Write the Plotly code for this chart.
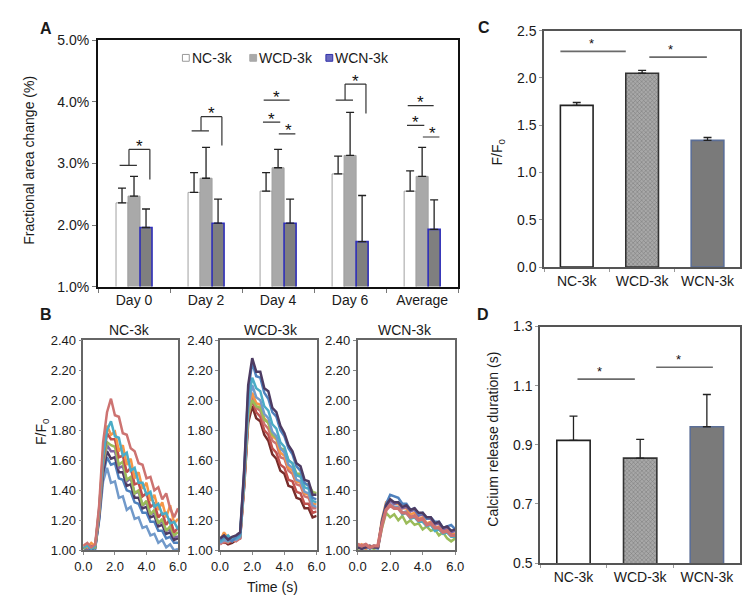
import plotly.graph_objects as go

W, H = 750, 601
FONT = "Arial, Liberation Sans, sans-serif"
TXT = "#1a1a1a"

# ---------------- Panel A: fractional area change ----------------
DAYS = ["Day 0", "Day 2", "Day 4", "Day 6", "Average"]
SERIES = ["NC-3k", "WCD-3k", "WCN-3k"]
NC_AREA = [2.36, 2.53, 2.55, 2.83, 2.55]
NC_AREA_ERR = [0.24, 0.32, 0.30, 0.29, 0.33]
WCD_AREA = [2.47, 2.76, 2.93, 3.13, 2.79]
WCD_AREA_ERR = [0.32, 0.50, 0.30, 0.70, 0.47]
WCN_AREA = [1.96, 2.03, 2.03, 1.73, 1.93]
WCN_AREA_ERR = [0.30, 0.39, 0.39, 0.75, 0.48]

# significance brackets: (category index, top level, left-leg level, right-leg level)
SIG_BRACKETS = [(0, 3.23, 2.97, 2.74), (1, 3.76, 3.53, 3.29), (3, 4.29, 4.03, 3.81)]
# three-line markers: (category index, NC-WCN level, NC-WCD level, WCD-WCN level)
SIG_TRIPLES = [(2, 4.03, 3.67, 3.48), (4, 3.94, 3.62, 3.43)]

# ---------------- Panel B: calcium transients ----------------
TIME_S = [0.0, 0.25, 0.5, 0.75, 1.0, 1.25, 1.5, 1.75, 2.0, 2.25, 2.5, 2.75, 3.0,
          3.25, 3.5, 3.75, 4.0, 4.25, 4.5, 4.75, 5.0, 5.25, 5.5, 5.75, 6.0]

NC_COLORS = ["#4F81BD", "#729ACA", "#4D3B62", "#8064A2", "#9BBB59", "#C0504D",
             "#F79646", "#4BACC6", "#CD7371"]
NC_TRACES = [
    [1.02, 1.00, 1.02, 1.01, 1.21, 1.50, 1.62, 1.57, 1.58, 1.48, 1.47, 1.40, 1.39, 1.32, 1.31, 1.25, 1.25, 1.19, 1.19, 1.13, 1.13, 1.08, 1.09, 1.05, 1.05],
    [1.02, 1.01, 1.00, 1.02, 1.20, 1.46, 1.55, 1.45, 1.46, 1.35, 1.36, 1.27, 1.29, 1.21, 1.22, 1.15, 1.16, 1.10, 1.11, 1.05, 1.07, 1.02, 1.04, 1.00, 1.01],
    [1.01, 1.02, 1.01, 1.02, 1.22, 1.52, 1.66, 1.61, 1.62, 1.52, 1.52, 1.43, 1.44, 1.35, 1.35, 1.28, 1.29, 1.22, 1.23, 1.16, 1.17, 1.11, 1.12, 1.07, 1.08],
    [1.02, 1.01, 1.03, 1.02, 1.24, 1.56, 1.70, 1.66, 1.66, 1.55, 1.56, 1.46, 1.48, 1.38, 1.39, 1.30, 1.32, 1.24, 1.25, 1.18, 1.19, 1.13, 1.14, 1.09, 1.09],
    [1.01, 1.03, 1.02, 1.02, 1.25, 1.58, 1.72, 1.70, 1.69, 1.57, 1.59, 1.47, 1.49, 1.38, 1.40, 1.30, 1.33, 1.24, 1.27, 1.18, 1.21, 1.13, 1.16, 1.10, 1.12],
    [1.03, 1.04, 1.02, 1.03, 1.26, 1.60, 1.78, 1.74, 1.74, 1.62, 1.63, 1.52, 1.55, 1.44, 1.45, 1.36, 1.38, 1.29, 1.31, 1.22, 1.25, 1.17, 1.21, 1.12, 1.15],
    [1.04, 1.02, 1.05, 1.03, 1.27, 1.66, 1.83, 1.77, 1.79, 1.66, 1.70, 1.57, 1.61, 1.48, 1.52, 1.41, 1.45, 1.33, 1.37, 1.27, 1.32, 1.22, 1.30, 1.18, 1.21],
    [1.02, 1.03, 1.01, 1.03, 1.28, 1.62, 1.80, 1.86, 1.76, 1.75, 1.63, 1.65, 1.53, 1.55, 1.45, 1.45, 1.37, 1.39, 1.29, 1.31, 1.24, 1.25, 1.18, 1.19, 1.14],
    [1.03, 1.05, 1.02, 1.04, 1.30, 1.72, 1.92, 2.01, 1.90, 1.89, 1.78, 1.77, 1.68, 1.66, 1.58, 1.57, 1.48, 1.49, 1.40, 1.42, 1.34, 1.38, 1.28, 1.22, 1.28],
]

WCD_COLORS = ["#772C2A", "#C0504D", "#CD7371", "#F79646", "#9BBB59", "#729ACA",
              "#4BACC6", "#4F81BD", "#4D3B62"]
WCD_TRACES = [
    [1.05, 1.06, 1.04, 1.05, 1.07, 1.08, 1.42, 1.85, 1.96, 1.88, 1.86, 1.77, 1.73, 1.64, 1.61, 1.53, 1.51, 1.43, 1.42, 1.35, 1.34, 1.28, 1.28, 1.22, 1.23],
    [1.06, 1.05, 1.07, 1.06, 1.08, 1.09, 1.44, 1.88, 2.00, 1.92, 1.89, 1.80, 1.77, 1.68, 1.65, 1.57, 1.55, 1.47, 1.46, 1.39, 1.38, 1.31, 1.31, 1.25, 1.26],
    [1.04, 1.06, 1.05, 1.07, 1.06, 1.08, 1.45, 1.90, 2.02, 1.95, 1.93, 1.84, 1.81, 1.73, 1.71, 1.62, 1.61, 1.53, 1.51, 1.44, 1.43, 1.36, 1.35, 1.28, 1.28],
    [1.06, 1.12, 1.08, 1.07, 1.09, 1.10, 1.47, 1.93, 2.05, 1.98, 1.97, 1.88, 1.85, 1.76, 1.74, 1.65, 1.63, 1.55, 1.53, 1.46, 1.45, 1.38, 1.37, 1.31, 1.31],
    [1.07, 1.08, 1.06, 1.08, 1.09, 1.10, 1.46, 1.90, 2.00, 1.96, 1.95, 1.87, 1.85, 1.77, 1.75, 1.68, 1.67, 1.60, 1.58, 1.51, 1.51, 1.44, 1.44, 1.39, 1.38],
    [1.05, 1.07, 1.06, 1.08, 1.07, 1.09, 1.48, 1.95, 2.10, 2.02, 2.00, 1.91, 1.88, 1.79, 1.76, 1.68, 1.65, 1.57, 1.55, 1.47, 1.46, 1.39, 1.38, 1.30, 1.29],
    [1.06, 1.08, 1.10, 1.07, 1.08, 1.10, 1.50, 2.00, 2.15, 2.08, 2.06, 1.96, 1.93, 1.84, 1.81, 1.72, 1.69, 1.60, 1.58, 1.50, 1.49, 1.42, 1.41, 1.33, 1.32],
    [1.07, 1.09, 1.08, 1.06, 1.09, 1.11, 1.52, 2.06, 2.25, 2.16, 2.15, 2.05, 2.01, 1.92, 1.89, 1.80, 1.76, 1.68, 1.64, 1.56, 1.53, 1.45, 1.43, 1.35, 1.34],
    [1.08, 1.10, 1.07, 1.09, 1.10, 1.12, 1.54, 2.10, 2.28, 2.19, 2.19, 2.08, 2.06, 1.95, 1.92, 1.83, 1.78, 1.70, 1.66, 1.58, 1.56, 1.47, 1.46, 1.37, 1.37],
]

WCN_COLORS = ["#9BBB59", "#729ACA", "#4BACC6", "#F79646", "#8064A2", "#4F81BD",
              "#4D3B62", "#CD7371"]
WCN_TRACES = [
    [1.01, 1.02, 1.03, 1.02, 1.01, 1.02, 1.15, 1.25, 1.22, 1.24, 1.20, 1.23, 1.18, 1.20, 1.17, 1.18, 1.14, 1.16, 1.13, 1.14, 1.10, 1.12, 1.08, 1.06, 1.08],
    [1.03, 1.01, 1.02, 1.03, 1.02, 1.01, 1.18, 1.28, 1.31, 1.29, 1.29, 1.25, 1.26, 1.22, 1.23, 1.20, 1.20, 1.17, 1.18, 1.14, 1.15, 1.12, 1.13, 1.10, 1.10],
    [1.02, 1.03, 1.01, 1.02, 1.03, 1.02, 1.17, 1.27, 1.30, 1.28, 1.28, 1.24, 1.25, 1.21, 1.22, 1.19, 1.19, 1.16, 1.17, 1.13, 1.14, 1.11, 1.12, 1.09, 1.09],
    [1.02, 1.04, 1.01, 1.03, 1.02, 1.03, 1.21, 1.32, 1.34, 1.31, 1.31, 1.28, 1.28, 1.24, 1.25, 1.21, 1.22, 1.18, 1.19, 1.15, 1.16, 1.13, 1.14, 1.11, 1.11],
    [1.02, 1.03, 1.02, 1.02, 1.03, 1.02, 1.18, 1.30, 1.33, 1.31, 1.32, 1.28, 1.29, 1.26, 1.27, 1.23, 1.24, 1.21, 1.21, 1.17, 1.18, 1.14, 1.15, 1.12, 1.13],
    [1.03, 1.02, 1.04, 1.01, 1.03, 1.02, 1.20, 1.31, 1.37, 1.36, 1.35, 1.31, 1.31, 1.27, 1.28, 1.24, 1.25, 1.21, 1.22, 1.19, 1.19, 1.15, 1.16, 1.17, 1.14],
    [1.02, 1.01, 1.02, 1.03, 1.02, 1.02, 1.19, 1.30, 1.34, 1.32, 1.32, 1.29, 1.30, 1.27, 1.28, 1.25, 1.25, 1.22, 1.22, 1.18, 1.19, 1.15, 1.16, 1.13, 1.14],
    [1.04, 1.03, 1.04, 1.02, 1.03, 1.03, 1.17, 1.27, 1.30, 1.28, 1.28, 1.25, 1.25, 1.22, 1.23, 1.20, 1.21, 1.17, 1.18, 1.15, 1.15, 1.12, 1.13, 1.10, 1.10],
]

# ---------------- Panels C and D ----------------
GROUPS = ["NC-3k", "WCD-3k", "WCN-3k"]
FF0_PEAK = [1.71, 2.05, 1.34]
FF0_PEAK_ERR = [0.03, 0.03, 0.03]
RELEASE_DURATION = [0.915, 0.855, 0.961]
RELEASE_DURATION_ERR = [0.082, 0.063, 0.109]
# significance lines: (from category, to category, level, star position)
SIG_C = [(-0.25, 0.75, 2.28, 0.23), (1.11, 1.99, 2.22, 1.44)]
SIG_D = [(0.06, 0.92, 1.122, 0.39), (1.24, 2.09, 1.162, 1.58)]

BAR_FILLS = ["#ffffff", "#a8a8a8", "#7a7a7a"]
BAR_LINES = ["#222222", "#333333", "#5b6e96"]
A_FILLS = ["#ffffff", "#a9a9a9", "#7f7f7f"]
A_LINES = ["#a0a0a0", "#a0a0a0", "#2e2eb8"]
A_LINE_W = [1.0, 1.0, 1.6]
LEGEND_SWATCH = ["#ffffff", "#a9a9a9", "#6a6ac0"]
LEGEND_SWATCH_LINE = ["#999999", "#a9a9a9", "#3030a8"]


def px(x):
    return x / W


def py(y):
    return 1 - y / H


fig = go.Figure()

# ---- Panel A bars
for name, vals, errs, fill, line, lw in zip(
        SERIES, [NC_AREA, WCD_AREA, WCN_AREA], [NC_AREA_ERR, WCD_AREA_ERR, WCN_AREA_ERR],
        A_FILLS, A_LINES, A_LINE_W):
    fig.add_trace(go.Bar(
        x=DAYS, y=vals, name=name, showlegend=False,
        marker=dict(color=fill, line=dict(color=line, width=lw)),
        error_y=dict(type="data", array=errs, arrayminus=[0] * len(errs), symmetric=False,
                     color="#222222", thickness=1.3, width=4),
        xaxis="x", yaxis="y",
    ))

# ---- Panel B traces
for axis_n, colors, traces in [(2, NC_COLORS, NC_TRACES), (3, WCD_COLORS, WCD_TRACES),
                               (4, WCN_COLORS, WCN_TRACES)]:
    for i, (c, vals) in enumerate(zip(colors, traces)):
        w = 3.4 if (axis_n == 4 and i == len(traces) - 1) else 2.5
        fig.add_trace(go.Scatter(
            x=TIME_S, y=vals, mode="lines", line=dict(color=c, width=w),
            xaxis=f"x{axis_n}", yaxis=f"y{axis_n}", showlegend=False,
        ))

# ---- Panels C and D
for axis_n, vals, errs in [(5, FF0_PEAK, FF0_PEAK_ERR), (6, RELEASE_DURATION, RELEASE_DURATION_ERR)]:
    fig.add_trace(go.Bar(
        x=GROUPS, y=vals, showlegend=False,
        marker=dict(color=BAR_FILLS, line=dict(color=BAR_LINES, width=1.6),
                    pattern=dict(shape=["", "x", ""], fillmode="overlay", fgcolor="#666666",
                                 size=3, solidity=0.3)),
        error_y=dict(type="data", array=errs, arrayminus=[0] * len(errs), symmetric=False,
                     color="#222222", thickness=1.3, width=4),
        xaxis=f"x{axis_n}", yaxis=f"y{axis_n}",
    ))

shapes = []
annotations = []


def star(xref, yref, x, y, size, shift):
    annotations.append(dict(text="*", x=x, y=y, xref=xref, yref=yref, showarrow=False,
                            yanchor="middle", yshift=shift,
                            font=dict(family=FONT, size=size, color="#111")))


def hline(xref, yref, x0, x1, y, color, width):
    shapes.append(dict(type="line", xref=xref, yref=yref, x0=x0, x1=x1, y0=y, y1=y,
                       line=dict(color=color, width=width)))


def vline(xref, yref, x, y0, y1, color, width):
    shapes.append(dict(type="line", xref=xref, yref=yref, x0=x, x1=x, y0=y0, y1=y1,
                       line=dict(color=color, width=width)))


SIGC = "#333333"
for i, top, lb, rb in SIG_BRACKETS:
    hline("x", "y", i - 0.07, i + 0.22, top, SIGC, 1.2)
    vline("x", "y", i - 0.07, lb, top, SIGC, 1.2)
    vline("x", "y", i + 0.22, rb, top, SIGC, 1.2)
    hline("x", "y", i - 0.20, i + 0.04, lb, SIGC, 1.2)
    star("x", "y", i + 0.08, top, 17, 3)
for i, y1, y2, y3 in SIG_TRIPLES:
    hline("x", "y", i - 0.20, i + 0.16, y1, SIGC, 1.2)
    star("x", "y", i - 0.02, y1, 17, 3)
    hline("x", "y", i - 0.21, i + 0.03, y2, SIGC, 1.2)
    star("x", "y", i - 0.09, y2, 17, 3)
    hline("x", "y", i + 0.01, i + 0.24, y3, SIGC, 1.2)
    star("x", "y", i + 0.14, y3, 17, 3)

for axn, sigs in [(5, SIG_C), (6, SIG_D)]:
    for x0, x1, lvl, sx in sigs:
        hline(f"x{axn}", f"y{axn}", x0, x1, lvl, "#6a6a6a", 1.6)
        star(f"x{axn}", f"y{axn}", sx, lvl, 13, 8)


def label(text, x, y, size=14, angle=0, bold=False, anchor="center"):
    annotations.append(dict(text=text, x=px(x), y=py(y),
                            xref="paper", yref="paper", showarrow=False, textangle=angle,
                            xanchor=anchor, yanchor="middle",
                            font=dict(family=FONT, size=size, color=TXT,
                                      weight="bold" if bold else "normal")))


# legend for panel A (swatch + text)
for name, sx, fill, line in zip(SERIES, [173, 242, 320], LEGEND_SWATCH, LEGEND_SWATCH_LINE):
    shapes.append(dict(type="rect", xref="paper", yref="paper",
                       x0=px(sx - 3.5), x1=px(sx + 3.5), y0=py(46.5), y1=py(39.5),
                       fillcolor=fill, line=dict(color=line, width=1)))
    label(name, sx + 4, 43, 14, anchor="left")

label("A", 30, 13, 16, bold=True)
label("B", 30, 307, 16, bold=True)
label("C", 478, 12, 16, bold=True)
label("D", 477, 307, 16, bold=True)
label("Fractional area change (%)", 12, 148, 14, angle=-90)
label("F/F<sub>0</sub>", 25, 427, 14, angle=-90)
label("F/F<sub>0</sub>", 493, 140, 14, angle=-90)
label("Calcium release duration (s)", 488, 435, 14, angle=-90)
label("Time (s)", 262, 587, 14)
label("NC-3k", 115, 323, 14)
label("WCD-3k", 260, 323, 14)
label("WCN-3k", 398, 323, 14)

tickfont = dict(family=FONT, size=14, color=TXT)
tickfont_b = dict(family=FONT, size=13, color=TXT)

layout_axes = dict(
    xaxis=dict(domain=[px(83), px(452)], anchor="y", showline=True, linecolor="#111",
               linewidth=2, mirror=True, ticks="outside", tickson="boundaries", ticklen=4,
               tickcolor="#777", tickfont=tickfont, showgrid=False, zeroline=False),
    yaxis=dict(domain=[py(278), py(25)], anchor="x", range=[1, 5], dtick=1,
               tickformat=".1f", ticksuffix="%", showline=True, linecolor="#111",
               linewidth=2, mirror=True, ticks="outside", ticklen=4, tickcolor="#777",
               tickfont=tickfont, showgrid=False, zeroline=False),
)
for n, (x0, x1) in zip([2, 3, 4], [(68, 165), (208, 307), (349, 449)]):
    layout_axes[f"xaxis{n}"] = dict(domain=[px(x0), px(x1)], anchor=f"y{n}", range=[0, 6],
                                    tickvals=[0, 2, 4, 6], tickformat=".1f",
                                    showline=True, linecolor="#666", linewidth=1.5,
                                    mirror=True, ticks="outside", ticklen=3,
                                    tickcolor="#888", tickfont=tickfont_b,
                                    showgrid=False, zeroline=False)
    layout_axes[f"yaxis{n}"] = dict(domain=[py(549), py(333)], anchor=f"x{n}",
                                    range=[1.0, 2.4], dtick=0.2, tickformat=".2f",
                                    showline=True, linecolor="#666", linewidth=1.5,
                                    mirror=True, ticks="outside", ticklen=3,
                                    tickcolor="#888", tickfont=tickfont_b,
                                    showgrid=False, zeroline=False)

layout_axes["xaxis5"] = dict(domain=[px(540), px(741)], anchor="y5", showline=True,
                             linecolor="#555", linewidth=1.5, mirror=True, ticks="outside",
                             tickson="boundaries", ticklen=3, tickcolor="#999",
                             tickfont=tickfont, showgrid=False, zeroline=False)
layout_axes["yaxis5"] = dict(domain=[py(258), py(15)], anchor="x5", range=[0, 2.5],
                             dtick=0.5, tickformat=".1f", showline=True, linecolor="#555",
                             linewidth=1.5, mirror=True, ticks="outside", ticklen=3,
                             tickcolor="#999", tickfont=tickfont, showgrid=False,
                             zeroline=False)
layout_axes["xaxis6"] = dict(domain=[px(536), px(741)], anchor="y6", showline=True,
                             linecolor="#555", linewidth=1.5, mirror=True, ticks="outside",
                             tickson="boundaries", ticklen=3, tickcolor="#999",
                             tickfont=tickfont, showgrid=False, zeroline=False)
layout_axes["yaxis6"] = dict(domain=[py(562), py(319)], anchor="x6", range=[0.5, 1.3],
                             tick0=0.5, dtick=0.2, tickformat=".1f", showline=True,
                             linecolor="#555", linewidth=1.5, mirror=True, ticks="outside",
                             ticklen=3, tickcolor="#999", tickfont=tickfont,
                             showgrid=False, zeroline=False)

fig.update_layout(
    width=W, height=H,
    margin=dict(l=0, r=0, t=0, b=0),
    paper_bgcolor="white", plot_bgcolor="white",
    font=dict(family=FONT, color=TXT),
    barmode="group", bargap=0.5, bargroupgap=0,
    showlegend=False,
    shapes=shapes, annotations=annotations,
    **layout_axes,
)

fig.write_html("out.html")
